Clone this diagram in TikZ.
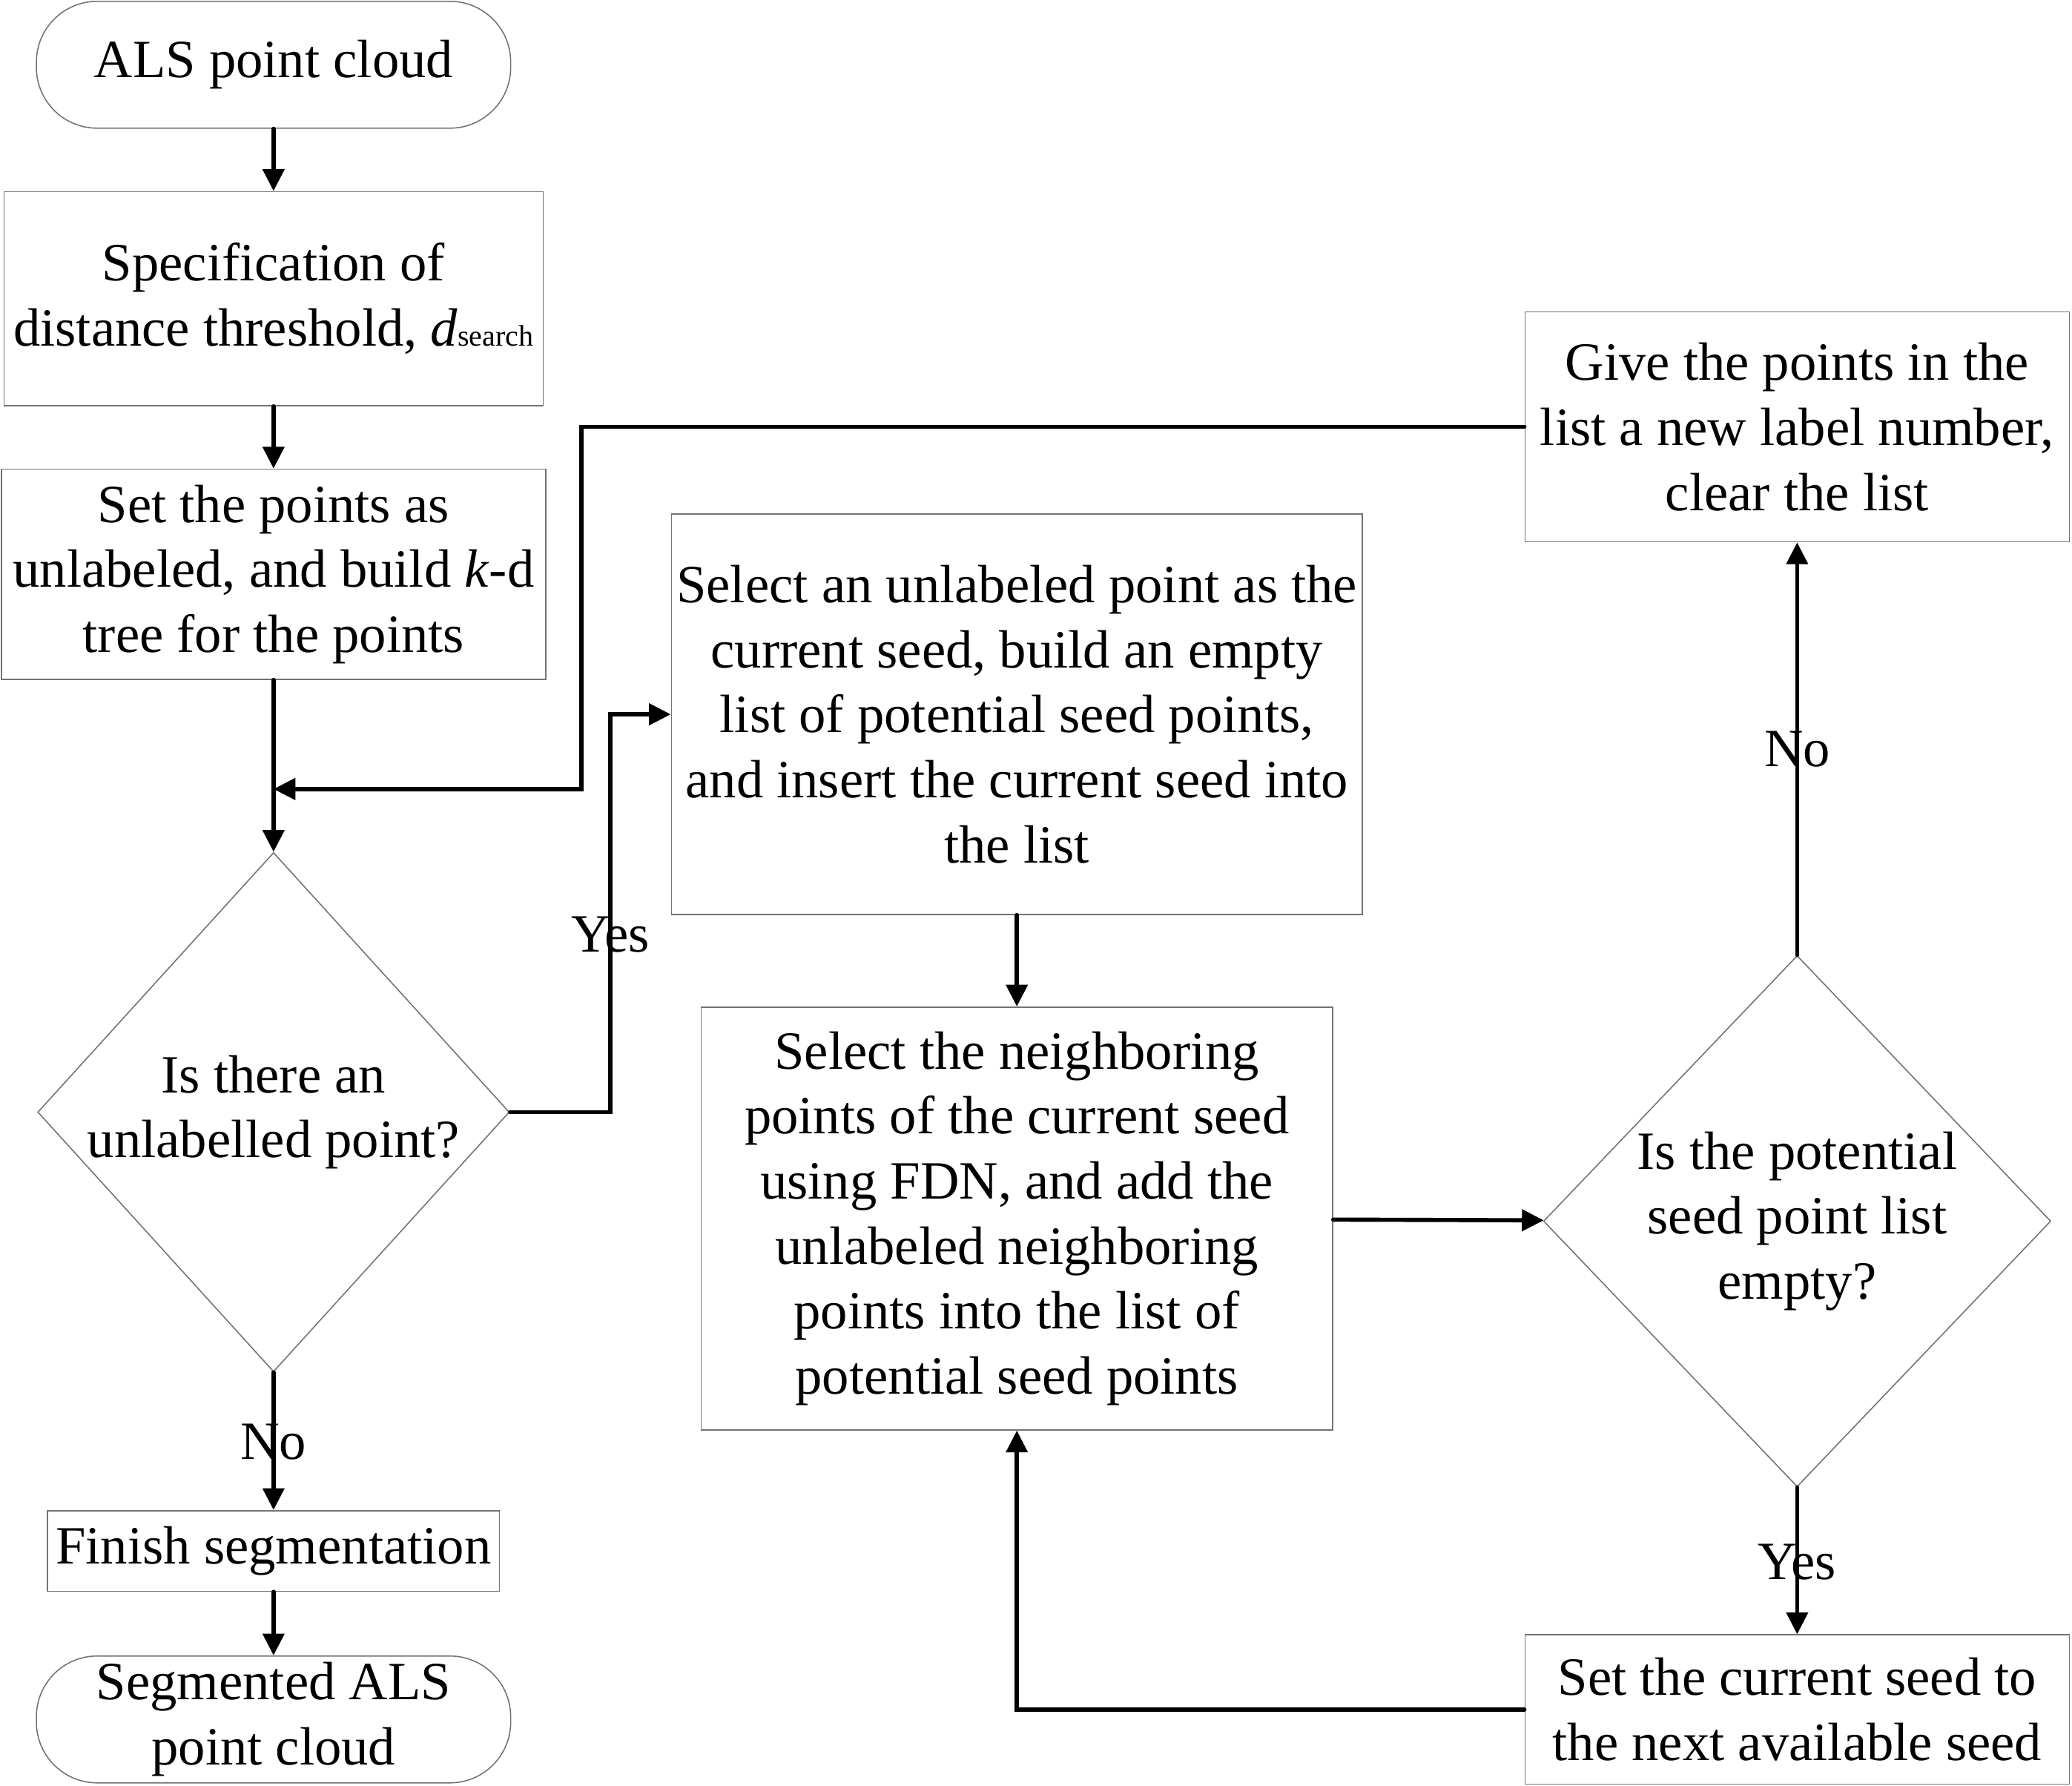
\documentclass[tikz,border=0pt]{standalone}
\usepackage{fontspec}
\setmainfont{Liberation Serif}
\usetikzlibrary{shapes.geometric,arrows.meta}

\tikzset{
  caja/.style={draw=black!55, line width=0.5pt, align=center, inner sep=2pt},
  terminal/.style={caja, rounded corners=0.92cm},
  decision/.style={diamond, draw=black!55, line width=0.5pt, inner sep=0pt},
  flecha/.style={line width=1.8pt, line cap=round, -{Triangle[length=0.33cm,width=0.32cm]}},
  etiqueta/.style={inner sep=0pt},
}

\begin{document}
\begin{tikzpicture}[x=0.02cm, y=-0.02cm, font=\fontsize{23.2}{28}\selectfont]
    \useasboundingbox (0,0) rectangle (1568,1351);

    % Columna izquierda: entrada y preparacion
    \node[terminal, minimum width=7.18cm, minimum height=1.92cm] (als) at (207,49) {ALS point cloud};
    \node[caja, minimum width=8.16cm, minimum height=3.24cm] (spec) at (207,226)
        {Specification of\\distance threshold, \textit{d}{\fontsize{12.8}{12.8}\selectfont search}};
    \node[caja, minimum width=8.24cm, minimum height=3.18cm] (setpts) at (207,434.5)
        {Set the points as\\unlabeled, and build \textit{k}-d\\tree for the points};

    % Primera decision
    \node[decision, minimum width=7.14cm, minimum height=7.86cm,
          label={[align=center]center:Is there an\\unlabelled point?}] (dec1) at (207,841.5) {};

    % Salida
    \node[caja, minimum width=6.84cm, minimum height=1.22cm] (fin) at (207,1173.5) {Finish segmentation};
    \node[terminal, minimum width=7.18cm, minimum height=1.92cm] (segm) at (207,1301)
        {Segmented ALS\\point cloud};

    % Columna central: crecimiento de regiones
    \node[caja, minimum width=10.46cm, minimum height=6.06cm] (sel) at (769.5,540.5)
        {Select an unlabeled point as the\\current seed, build an empty\\list of potential seed points,\\and insert the current seed into\\the list};
    \node[caja, minimum width=9.56cm, minimum height=6.4cm] (vec) at (769.5,922)
        {Select the neighboring\\points of the current seed\\using FDN, and add the\\unlabeled neighboring\\points into the list of\\potential seed points};

    % Columna derecha
    \node[decision, minimum width=7.68cm, minimum height=8.04cm,
          label={[align=center]center:Is the potential\\seed point list\\empty?}] (dec2) at (1360,924) {};
    \node[caja, minimum width=8.24cm, minimum height=3.48cm] (give) at (1360,323)
        {Give the points in the\\list a new label number,\\clear the list};
    \node[caja, minimum width=8.24cm, minimum height=2.26cm] (next) at (1360,1293.5)
        {Set the current seed to\\the next available seed};

    % Puntos de giro del lazo
    \coordinate (giro) at (440,597);
    \coordinate (union) at (207,597);

    % Flechas
    \draw[flecha] (als) -- (spec);
    \draw[flecha] (spec) -- (setpts);
    \draw[flecha] (setpts) -- (dec1);
    \draw[flecha] (give.west) -| (giro) -- (union);
    \draw[flecha] (dec1.east) -- ++(76,0) |- (sel.west);
    \draw[flecha] (dec1) -- (fin);
    \draw[flecha] (fin) -- (segm);
    \draw[flecha] (sel) -- (vec);
    \draw[flecha] (vec) -- (dec2);
    \draw[flecha] (dec2) -- (give);
    \draw[flecha] (dec2) -- (next);
    \draw[flecha] (next.west) -| (vec.south);

    % Etiquetas de las ramas
    \node[etiqueta] (si1) at (462,707) {Yes};
    \node[etiqueta] (no1) at (207,1091) {No};
    \node[etiqueta] (no2) at (1360,567) {No};
    \node[etiqueta] (si2) at (1360,1182) {Yes};

  \end{tikzpicture}
\end{document}
